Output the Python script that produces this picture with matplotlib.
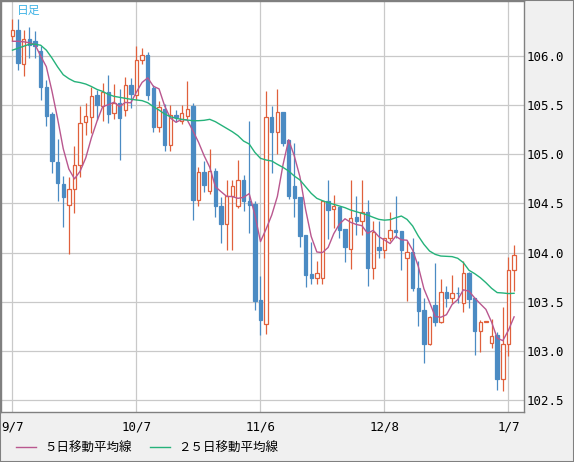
import matplotlib
matplotlib.use("Agg")
import matplotlib.pyplot as plt
from matplotlib.patches import Rectangle
from matplotlib.lines import Line2D
import pandas as pd

# ---------------- data (USD/JPY daily) ----------------
opens = [106.20, 106.27, 105.92, 106.17, 106.15, 106.05, 105.68, 105.41, 104.92, 104.70,
         104.48, 104.65, 104.89, 105.33, 105.38, 105.60, 105.49, 105.63, 105.42, 105.52,
         105.45, 105.71, 105.60, 105.96, 106.01, 105.67, 105.28, 105.46, 105.09, 105.40,
         105.34, 105.39, 105.49, 104.54, 104.82, 104.63, 104.83, 104.47, 104.29, 104.58,
         104.47, 104.74, 104.52, 104.49, 103.52, 103.27, 105.38, 105.23, 105.43, 105.15,
         104.68, 104.57, 104.18, 103.78, 103.74, 103.74, 104.53, 104.44, 104.46, 104.24,
         104.04, 104.36, 104.32, 104.41, 103.84, 104.06, 104.03, 104.15, 104.23, 104.22,
         103.95, 104.01, 103.64, 103.42, 103.07, 103.47, 103.29, 103.60, 103.54, 103.59,
         103.49, 103.79, 103.54, 103.20, 103.29, 103.08, 103.16, 102.71, 103.07, 103.82]
highs = [106.38, 106.38, 106.27, 106.30, 106.25, 106.10, 105.76, 105.43, 105.16, 104.78,
         104.77, 105.08, 105.49, 105.52, 105.69, 105.65, 105.73, 105.81, 105.72, 105.66,
         105.79, 105.78, 106.10, 106.08, 106.04, 105.71, 105.54, 105.51, 105.50, 105.45,
         105.50, 105.75, 105.52, 104.87, 104.93, 105.05, 104.86, 104.57, 104.74, 104.74,
         104.94, 104.79, 105.34, 104.52, 103.76, 105.64, 105.49, 105.66, 105.43, 105.15,
         105.12, 104.57, 104.18, 104.11, 103.91, 104.53, 104.74, 104.59, 104.46, 104.24,
         104.74, 104.58, 104.74, 104.54, 104.32, 104.32, 104.15, 104.41, 104.58, 104.22,
         104.12, 104.15, 103.91, 103.54, 103.35, 103.89, 103.73, 103.66, 103.77, 103.65,
         103.91, 103.80, 103.54, 103.31, 103.30, 103.32, 103.19, 103.45, 103.96, 104.08]
lows = [106.15, 105.86, 105.80, 105.98, 105.98, 105.55, 105.29, 104.81, 104.52, 104.26,
        103.99, 104.40, 104.77, 105.20, 105.22, 105.35, 105.34, 105.32, 105.36, 104.94,
        105.39, 105.47, 105.55, 105.92, 105.55, 105.23, 105.23, 105.03, 105.03, 105.33,
        105.31, 105.36, 104.33, 104.47, 104.62, 104.60, 104.36, 104.10, 104.03, 104.03,
        104.45, 104.42, 104.20, 103.42, 103.16, 103.17, 104.81, 105.00, 105.08, 104.55,
        104.36, 104.06, 103.65, 103.68, 103.68, 103.68, 104.14, 104.25, 104.15, 103.90,
        103.83, 104.18, 104.18, 103.66, 103.73, 103.95, 103.95, 104.12, 104.15, 103.82,
        103.51, 103.61, 103.25, 102.88, 103.06, 103.25, 103.28, 103.45, 103.49, 103.49,
        103.40, 103.44, 102.96, 102.99, 103.29, 103.03, 102.60, 102.59, 102.95, 103.61]
closes = [106.27, 105.93, 106.17, 106.11, 106.10, 105.69, 105.39, 104.93, 104.71, 104.57,
          104.65, 104.89, 105.32, 105.39, 105.59, 105.50, 105.63, 105.41, 105.52, 105.37,
          105.71, 105.61, 105.96, 106.01, 105.60, 105.28, 105.48, 105.09, 105.40, 105.38,
          105.42, 105.46, 104.54, 104.82, 104.69, 104.83, 104.47, 104.29, 104.58, 104.68,
          104.74, 104.52, 104.48, 103.51, 103.31, 105.38, 105.23, 105.43, 105.12, 104.58,
          104.56, 104.17, 103.77, 103.74, 103.79, 104.53, 104.43, 104.47, 104.23, 104.06,
          104.35, 104.32, 104.41, 103.84, 104.21, 104.03, 104.15, 104.23, 104.21, 104.03,
          104.01, 103.64, 103.41, 103.07, 103.34, 103.29, 103.60, 103.54, 103.59, 103.586,
          103.79, 103.53, 103.20, 103.29, 103.30, 103.15, 102.71, 103.07, 103.82, 103.98]
# first four 5-day MA values (their inputs precede the visible window)
ma5_lead = [106.15, 106.15, 106.145, 106.135]
# 25-day moving average as drawn
ma25 = [106.06, 106.08, 106.10, 106.12, 106.12, 106.11, 106.06, 105.98, 105.89, 105.81,
        105.77, 105.74, 105.73, 105.715, 105.69, 105.66, 105.64, 105.61, 105.59, 105.58,
        105.57, 105.56, 105.553, 105.546, 105.525, 105.485, 105.45, 105.41, 105.383, 105.366,
        105.356, 105.349, 105.342, 105.342, 105.346, 105.356, 105.332, 105.298, 105.264, 105.23,
        105.19, 105.135, 105.105, 105.02, 104.959, 104.942, 104.932, 104.898, 104.867, 104.83,
        104.779, 104.739, 104.671, 104.603, 104.552, 104.528, 104.508, 104.491, 104.474, 104.457,
        104.433, 104.416, 104.399, 104.382, 104.359, 104.338, 104.33, 104.335, 104.355, 104.372,
        104.338, 104.271, 104.169, 104.084, 104.016, 103.982, 103.965, 103.962, 103.959, 103.942,
        103.898, 103.82, 103.786, 103.745, 103.694, 103.637, 103.593, 103.589, 103.583, 103.586]

tick_idx = [0, 22, 44, 66, 88]
tick_labels = ["9/7", "10/7", "11/6", "12/8", "1/7"]
y_ticks = [102.5, 103.0, 103.5, 104.0, 104.5, 105.0, 105.5, 106.0]
legend_labels = ["５日移動平均線", "２５日移動平均線"]
title = "日足"

# ---------------- derived ----------------
ma5 = pd.Series(closes).rolling(5).mean().tolist()
ma5[:4] = ma5_lead

# ---------------- style ----------------
UP = "#e0603c"
DOWN = "#4b8bc3"
C_MA5 = "#b9578f"
C_MA25 = "#25b27a"
GRID = "#c9c9c9"
FRAME = "#808080"
BG = "#f0f0f0"
CJK = ["Noto Sans CJK JP", "DejaVu Sans"]
MONO = "DejaVu Sans Mono"

W, H = 574, 462
fig = plt.figure(figsize=(W / 100, H / 100), dpi=100, facecolor=BG)
ax_l, ax_r, ax_t, ax_b = 1.0, 523.5, 1.0, 412.0
ax = fig.add_axes([ax_l / W, (H - ax_b) / H, (ax_r - ax_l) / W, (ax_b - ax_t) / H])
ax.set_facecolor("white")

ax.set_xlim(-2.04, 90.67)
ax.set_ylim(102.378, 106.56)

ax.set_yticks(y_ticks)
ax.set_yticklabels([f"{v:.1f}" for v in y_ticks], fontfamily=MONO, fontsize=9)
ax.yaxis.tick_right()
ax.set_xticks(tick_idx)
ax.set_xticklabels(tick_labels, fontfamily=MONO, fontsize=9)
ax.tick_params(axis="both", length=0, colors="black")
ax.tick_params(axis="y", pad=2.2)
ax.tick_params(axis="x", pad=6.0)
ax.grid(True, color=GRID, linewidth=0.9, zorder=0)
ax.set_axisbelow(True)
for s in ax.spines.values():
    s.set_color(FRAME)
    s.set_linewidth(1.0)

bw = 0.6
for i, (o, h, l, c) in enumerate(zip(opens, highs, lows, closes)):
    up = c >= o
    col = UP if up else DOWN
    ax.plot([i, i], [l, h], color=col, linewidth=0.9, zorder=2, solid_capstyle="butt")
    bottom = min(o, c)
    height = max(abs(c - o), 0.004)
    if up:
        rect = Rectangle((i - bw / 2, bottom), bw, height, facecolor="white",
                         edgecolor=col, linewidth=0.9, zorder=3)
    else:
        rect = Rectangle((i - bw / 2, bottom), bw, height, facecolor=col,
                         edgecolor=col, linewidth=0.9, zorder=3)
    ax.add_patch(rect)

x = list(range(len(closes)))
l5, = ax.plot(x, ma5, color=C_MA5, linewidth=1.0, zorder=4, label=legend_labels[0])
l25, = ax.plot(x, ma25, color=C_MA25, linewidth=1.0, zorder=4, label=legend_labels[1])

ax.text((17 - ax_l) / (ax_r - ax_l), 1 - (10.5 - ax_t) / (ax_b - ax_t), title,
        transform=ax.transAxes, ha="left", va="center", fontsize=8.5,
        color="#42b4e6", fontfamily=CJK, zorder=6)

leg = fig.legend(handles=[l5, l25], loc="center left",
                 bbox_to_anchor=(16.0 / W, (H - 448) / H), ncol=2, frameon=False,
                 prop={"family": CJK, "size": 9}, handlelength=1.6,
                 handletextpad=0.65, columnspacing=1.5, borderpad=0, borderaxespad=0)

fig.patches.append(Rectangle((0, 0), 1, 1, transform=fig.transFigure, fill=False,
                             edgecolor=FRAME, linewidth=1.5, zorder=10))

fig.savefig("out.png", dpi=100, facecolor=BG)
